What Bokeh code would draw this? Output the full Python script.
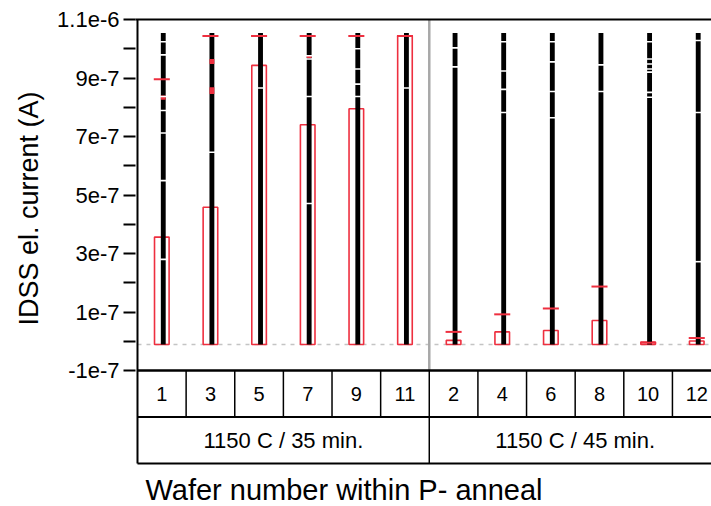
from bokeh.plotting import figure
from bokeh.models import (Range1d, FixedTicker, CustomJSTickFormatter, LinearAxis,
                          Title, ColumnDataSource)
from bokeh.embed import file_html
from bokeh.resources import INLINE
from bokeh.core.properties import value

# ---------------- data ----------------
wafers = ["1", "3", "5", "7", "9", "11", "2", "4", "6", "8", "10", "12"]
groups = ["1150 C / 35 min.", "1150 C / 45 min."]
group_size = [6, 6]
data_min = [-1.1e-8] * 12
data_max = [1.054e-6] * 12
bar_value = [3.56e-7, 4.58e-7, 9.43e-7, 7.40e-7, 7.95e-7, 1.044e-6,
             0.3e-8, 3.2e-8, 3.7e-8, 7.1e-8, -0.3e-8, 0.1e-8]
tick_value = [8.96e-7, 1.044e-6, 1.044e-6, 1.044e-6, 1.044e-6, 1.044e-6,
              3.2e-8, 9.2e-8, 11.2e-8, 18.7e-8, -0.5e-8, 1.1e-8]
# empty spots between the plotted points (wafer index, value)
gap_wafer = [0, 0, 0, 0, 0, 0, 0,
             1,
             2,
             3, 3, 3, 3,
             4, 4, 4, 4,
             5,
             6, 6,
             7, 7, 7, 7,
             8, 8, 8, 8,
             9, 9,
             10, 10, 10, 10, 10, 10, 10,
             11, 11, 11]
gap_value = [1.024e-6, 0.979e-6, 0.837e-6, 0.789e-6, 0.712e-6, 0.549e-6, 0.280e-6,
             0.646e-6,
             0.866e-6,
             0.976e-6, 0.965e-6, 0.837e-6, 0.471e-6,
             1.000e-6, 0.931e-6, 0.879e-6, 0.837e-6,
             0.866e-6,
             1.003e-6, 0.938e-6,
             1.024e-6, 0.924e-6, 0.861e-6, 0.782e-6,
             1.024e-6, 0.955e-6, 0.854e-6, 0.764e-6,
             0.945e-6, 0.854e-6,
             1.024e-6, 0.965e-6, 0.948e-6, 0.931e-6, 0.920e-6, 0.851e-6, 0.834e-6,
             1.028e-6, 0.782e-6, 0.272e-6]
# red highlighted runs of points (wafer index, low, high)
red_wafer = [1, 1, 0, 3]
red_lo = [0.948e-6, 0.845e-6, 0.826e-6, 0.968e-6]
red_hi = [0.965e-6, 0.868e-6, 0.840e-6, 0.978e-6]
y_ticks = [-1e-7, 0.0, 1e-7, 2e-7, 3e-7, 4e-7, 5e-7, 6e-7, 7e-7, 8e-7, 9e-7, 1e-6, 1.1e-6]
y_title = "IDSS el. current (A)"
x_title = "Wafer number within P- anneal"

# ---------------- layout ----------------
W, H = 711, 506
AXIS_X, FRAME_L, TOP, BOX_BOTTOM, PLOT_BOTTOM = 135, 133, 19, 463, 370
Y_TOP, Y_PLOT_BOT = 1.1e-6, -1e-7
K = (Y_TOP - Y_PLOT_BOT) / (PLOT_BOTTOM - TOP)
COL_W = 48.8


def ypx(py):
    return Y_TOP - (py - TOP) * K


def xpx(px):
    return (px - AXIS_X) / COL_W


FONT = value("Liberation Sans")
RED = "#ee2f3f"
n = len(wafers)
xc = [i + 0.5 for i in range(n)]
XOFF = 0.03

p = figure(width=W, height=H, output_backend="svg", toolbar_location=None,
           x_range=Range1d(xpx(FRAME_L), xpx(W)), y_range=Range1d(ypx(H), Y_TOP),
           min_border_left=FRAME_L, min_border_top=TOP, min_border_right=0,
           min_border_bottom=0, outline_line_color=None)
p.grid.visible = False
p.xaxis.visible = False

# y axis (ticks and labels; the axis line is drawn as a segment below)
ya = p.yaxis[0]
ya.ticker = FixedTicker(ticks=y_ticks)
ya.formatter = CustomJSTickFormatter(code="""
const k = Math.round(tick*1e7);
if (k % 2 === 0) return "";
return Number((k*1e-7).toPrecision(2)).toExponential();
""")
ya.major_tick_out = 12
ya.major_tick_in = 0
ya.minor_tick_out = 0
ya.minor_tick_in = 0
ya.axis_line_color = None
ya.major_tick_line_width = 2
ya.major_tick_line_color = "black"
ya.major_label_text_font = "Liberation Sans"
ya.major_label_text_font_size = "22px"
ya.major_label_text_color = "black"
ya.major_label_standoff = 4

# y title, placed along the plot area
p.add_layout(Title(text=y_title, align="right", offset=72,
                   text_font="Liberation Sans", text_font_size="27px",
                   text_font_style="normal", text_color="black", standoff=22), "left")

# top line
top_axis = LinearAxis(ticker=FixedTicker(ticks=[]), major_label_text_font_size="0px",
                      major_tick_out=0, major_tick_in=0, minor_tick_out=0, minor_tick_in=0,
                      axis_line_width=2, axis_line_color="black")
p.add_layout(top_axis, "above")

# dashed reference line
p.segment(x0=[0], x1=[n], y0=[data_min[0]], y1=[data_min[0]], line_color="#c4c4c4",
          line_width=1.5, line_dash="4 5")

# group separator inside the plot
p.segment(x0=[group_size[0]], x1=[group_size[0]], y0=[Y_PLOT_BOT], y1=[Y_TOP],
          line_color="#a8a8a8", line_width=2.5)

src = ColumnDataSource(dict(x=xc, lo=data_min, hi=data_max, bar=bar_value, tick=tick_value,
                            xl=[x - 0.15 for x in xc], xr=[x + 0.15 for x in xc],
                            tl=[x - 0.165 for x in xc], tr=[x + 0.165 for x in xc],
                            xb=[x + XOFF for x in xc]))
# red bars (rectangles)
p.quad(left="xl", right="xr", bottom="lo", top="bar", source=src,
       fill_color=None, line_color=RED, line_width=1.6)
# black data columns
p.vbar(x="xb", width=0.1, bottom="lo", top="hi", source=src,
       fill_color="black", line_color=None)
# red highlighted runs
p.vbar(x=[xc[i] + XOFF for i in red_wafer], width=0.1, bottom=red_lo, top=red_hi,
       fill_color=RED, line_color=None)
# gaps between points
p.rect(x=[xc[i] + XOFF for i in gap_wafer], y=gap_value, width=0.13, height=1.6,
       height_units="screen", fill_color="white", line_color=None)
# red ticks
p.segment(x0="tl", x1="tr", y0="tick", y1="tick", source=src,
          line_color=RED, line_width=2)

# left axis line (plot + category boxes)
p.segment(x0=[0], x1=[0], y0=[ypx(BOX_BOTTOM)], y1=[Y_TOP], line_color="black", line_width=2)
# bottom line of the plot area
p.segment(x0=[0], x1=[n], y0=[Y_PLOT_BOT], y1=[Y_PLOT_BOT], line_color="black", line_width=2.5)

# category boxes
row_sep = ypx(416.5)
p.segment(x0=list(range(1, n)), x1=list(range(1, n)), y0=[Y_PLOT_BOT] * (n - 1),
          y1=[row_sep] * (n - 1), line_color="black", line_width=1.5)
p.segment(x0=[0], x1=[n], y0=[row_sep], y1=[row_sep], line_color="black", line_width=2)
p.segment(x0=[group_size[0]], x1=[group_size[0]], y0=[row_sep], y1=[ypx(BOX_BOTTOM)],
          line_color="black", line_width=1.5)
p.segment(x0=[0], x1=[n], y0=[ypx(BOX_BOTTOM)], y1=[ypx(BOX_BOTTOM)],
          line_color="black", line_width=2)
p.text(x=xc, y=[ypx(393)] * n, text=wafers, text_font=FONT, text_font_size="20px",
       text_align="center", text_baseline="middle", text_color="black")
gx = [group_size[0] / 2, group_size[0] + group_size[1] / 2]
p.text(x=gx, y=[ypx(440)] * 2, text=groups, text_font=FONT, text_font_size="22px",
       text_align="center", text_baseline="middle", text_color="black")

# x title
p.text(x=[xpx(143)], y=[ypx(489)], text=[x_title], text_font=FONT, text_font_size="29px",
       text_align="left", text_baseline="middle", text_color="black")

open("out.html", "w").write(file_html(p, INLINE))
